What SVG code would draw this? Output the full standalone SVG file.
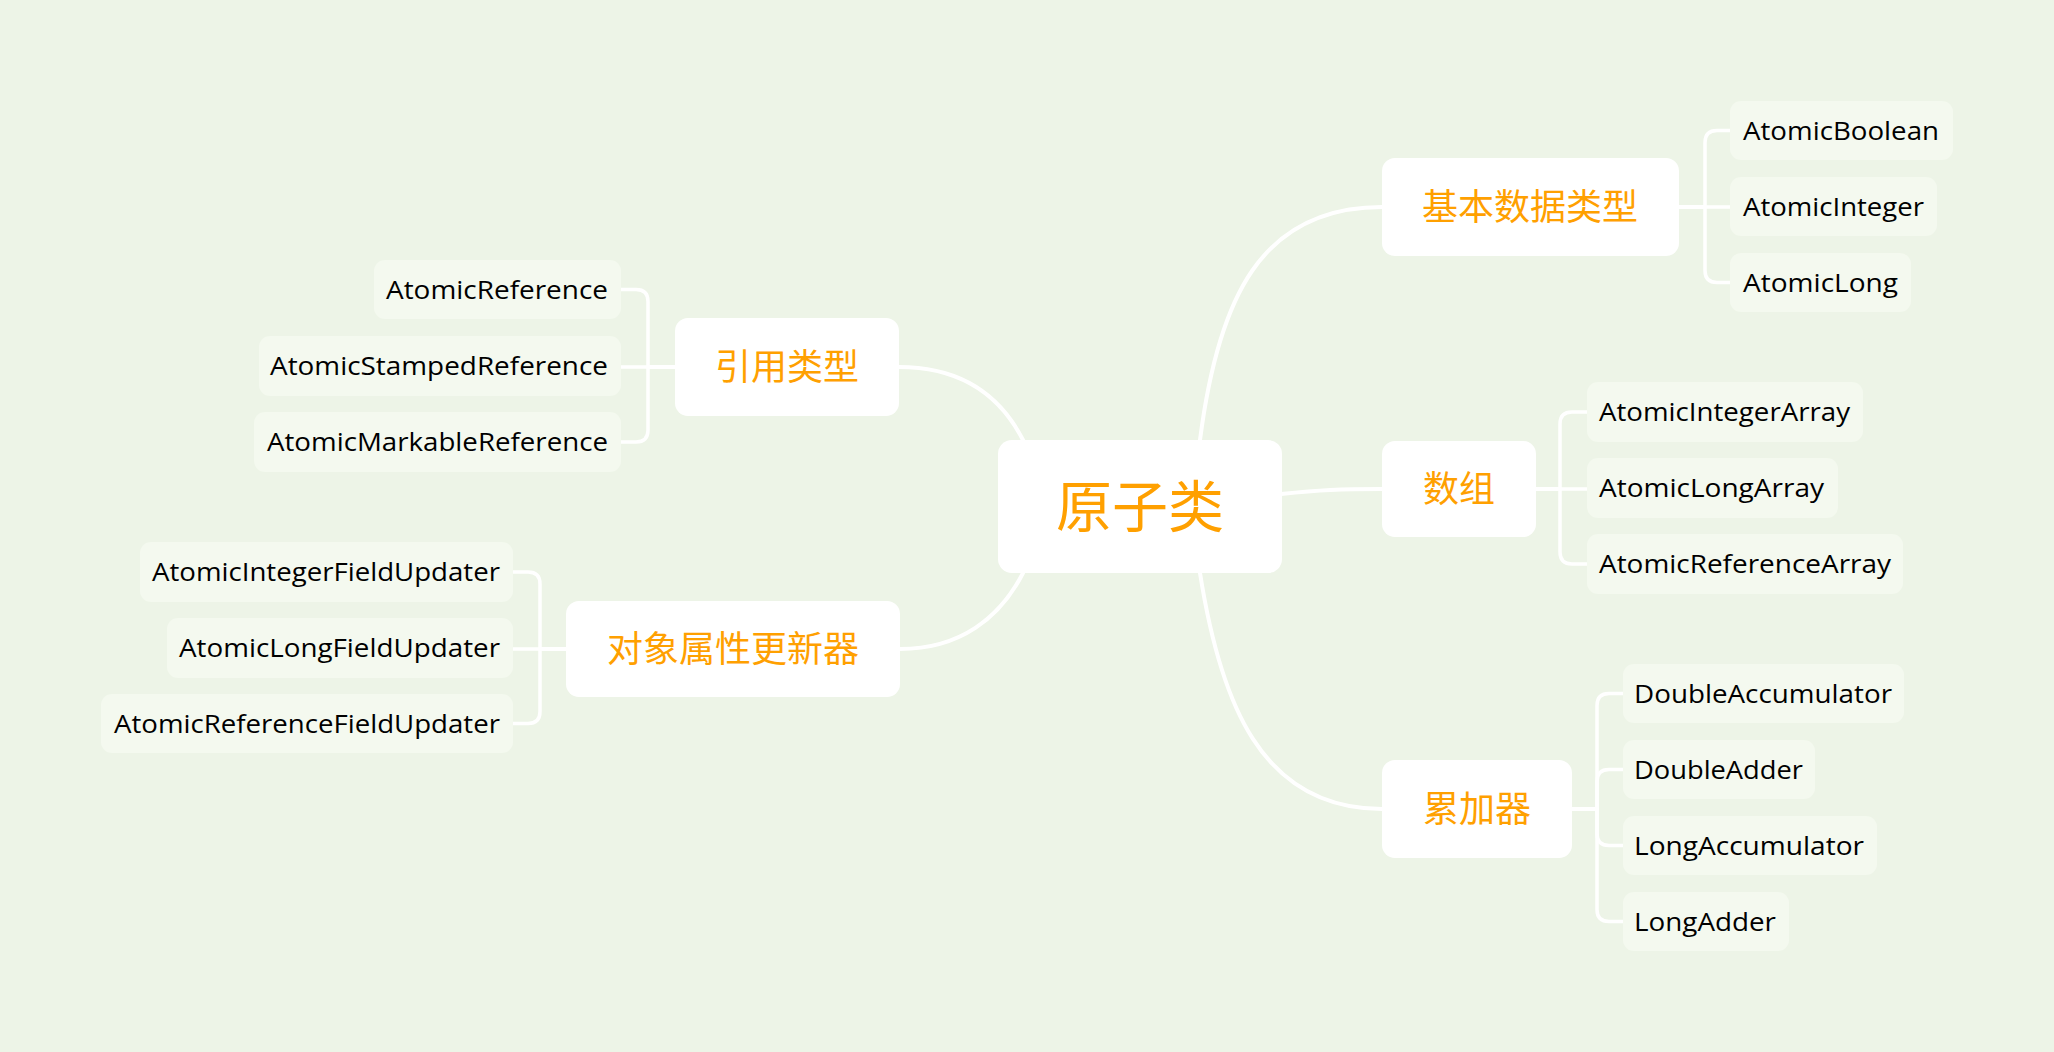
<svg xmlns="http://www.w3.org/2000/svg" width="2054" height="1052" viewBox="0 0 2054 1052">
<style>
.bg{fill:#EDF4E7}
.main{fill:#FFFFFF}
.leaf{fill:#F4F9EF}
.mt{font-family:"Noto Sans CJK SC","Noto Sans",sans-serif;font-size:36px;fill:#FFA000;text-anchor:middle}
.rt{font-family:"Noto Sans CJK SC","Noto Sans",sans-serif;font-size:56px;fill:#FFA000;text-anchor:middle}
.lt{font-family:"Open Sans","Liberation Sans",sans-serif;font-size:26px;fill:#000000}
.le{text-anchor:end}
.c{fill:none;stroke:#FFFFFF;stroke-width:3.5;stroke-linecap:round;stroke-linejoin:round}
.cm{fill:none;stroke:#FFFFFF;stroke-width:4;stroke-linecap:round}
</style>
<rect class="bg" x="0" y="0" width="2054" height="1052"/>
<g id="connectors">
<path class="cm" d="M1200,440 C1218,300 1260,207 1382,207"/>
<path class="cm" d="M1281,494 C1320,490 1340,489 1382,489"/>
<path class="cm" d="M1200,573 C1220,700 1260,809 1382,809"/>
<path class="cm" d="M1023,440 C1000,395 960,367 899,367"/>
<path class="cm" d="M1023,573 C1000,618 960,649 900,649"/>
<path class="c" d="M1679,207 H1705 V142.5 Q1705,130.5 1717,130.5 H1730"/>
<path class="c" d="M1679,207 H1730"/>
<path class="c" d="M1679,207 H1705 V270.5 Q1705,282.5 1717,282.5 H1730"/>
<path class="c" d="M1536,489 H1560 V424 Q1560,412 1572,412 H1587"/>
<path class="c" d="M1536,489 H1587"/>
<path class="c" d="M1536,489 H1560 V552 Q1560,564 1572,564 H1587"/>
<path class="c" d="M1572,809 H1597 V705.5 Q1597,693.5 1609,693.5 H1623"/>
<path class="c" d="M1572,809 H1597 V781.5 Q1597,769.5 1609,769.5 H1623"/>
<path class="c" d="M1572,809 H1597 V833.5 Q1597,845.5 1609,845.5 H1623"/>
<path class="c" d="M1572,809 H1597 V909.5 Q1597,921.5 1609,921.5 H1623"/>
<path class="c" d="M675,367 H648 V301.5 Q648,289.5 636,289.5 H621"/>
<path class="c" d="M675,367 H621"/>
<path class="c" d="M675,367 H648 V430 Q648,442 636,442 H621"/>
<path class="c" d="M566,649 H540 V584 Q540,572 528,572 H513"/>
<path class="c" d="M566,649 H513"/>
<path class="c" d="M566,649 H540 V711.5 Q540,723.5 528,723.5 H513"/>
</g>
<g id="root"><rect class="main" x="998" y="440" width="284" height="133" rx="14"/><text class="rt" x="1140" y="527">原子类</text></g>
<g id="n-basic"><rect class="main" x="1382" y="158" width="297" height="98" rx="13"/><text class="mt" x="1530" y="220">基本数据类型</text></g>
<g id="n-array"><rect class="main" x="1382" y="441" width="154" height="96" rx="13"/><text class="mt" x="1459" y="502">数组</text></g>
<g id="n-acc"><rect class="main" x="1382" y="760" width="190" height="98" rx="13"/><text class="mt" x="1477" y="822">累加器</text></g>
<g id="n-ref"><rect class="main" x="675" y="318" width="224" height="98" rx="13"/><text class="mt" x="787" y="380">引用类型</text></g>
<g id="n-upd"><rect class="main" x="566" y="601" width="334" height="96" rx="13"/><text class="mt" x="733" y="662">对象属性更新器</text></g>
<g id="l-bool"><rect class="leaf" x="1730" y="101" width="223" height="59" rx="11"/><text class="lt" x="1743" y="140" textLength="196" lengthAdjust="spacingAndGlyphs">AtomicBoolean</text></g>
<g id="l-int"><rect class="leaf" x="1730" y="177" width="207" height="59" rx="11"/><text class="lt" x="1743" y="216" textLength="181" lengthAdjust="spacingAndGlyphs">AtomicInteger</text></g>
<g id="l-long"><rect class="leaf" x="1730" y="253" width="181" height="59" rx="11"/><text class="lt" x="1743" y="292" textLength="155" lengthAdjust="spacingAndGlyphs">AtomicLong</text></g>
<g id="l-intarr"><rect class="leaf" x="1587" y="382" width="276" height="60" rx="11"/><text class="lt" x="1599" y="421" textLength="251" lengthAdjust="spacingAndGlyphs">AtomicIntegerArray</text></g>
<g id="l-longarr"><rect class="leaf" x="1587" y="458" width="251" height="60" rx="11"/><text class="lt" x="1599" y="497" textLength="225" lengthAdjust="spacingAndGlyphs">AtomicLongArray</text></g>
<g id="l-refarr"><rect class="leaf" x="1587" y="534" width="316" height="60" rx="11"/><text class="lt" x="1599" y="573" textLength="292" lengthAdjust="spacingAndGlyphs">AtomicReferenceArray</text></g>
<g id="l-dacc"><rect class="leaf" x="1623" y="664" width="281" height="59" rx="11"/><text class="lt" x="1634" y="703" textLength="258" lengthAdjust="spacingAndGlyphs">DoubleAccumulator</text></g>
<g id="l-dadd"><rect class="leaf" x="1623" y="740" width="192" height="59" rx="11"/><text class="lt" x="1634" y="779" textLength="169" lengthAdjust="spacingAndGlyphs">DoubleAdder</text></g>
<g id="l-lacc"><rect class="leaf" x="1623" y="816" width="254" height="59" rx="11"/><text class="lt" x="1634" y="855" textLength="230" lengthAdjust="spacingAndGlyphs">LongAccumulator</text></g>
<g id="l-ladd"><rect class="leaf" x="1623" y="892" width="166" height="59" rx="11"/><text class="lt" x="1634" y="931" textLength="142" lengthAdjust="spacingAndGlyphs">LongAdder</text></g>
<g id="l-ref"><rect class="leaf" x="374" y="260" width="247" height="59" rx="11"/><text class="lt le" x="608" y="299" textLength="222" lengthAdjust="spacingAndGlyphs">AtomicReference</text></g>
<g id="l-sref"><rect class="leaf" x="259" y="336" width="362" height="60" rx="11"/><text class="lt le" x="608" y="375" textLength="338" lengthAdjust="spacingAndGlyphs">AtomicStampedReference</text></g>
<g id="l-mref"><rect class="leaf" x="254" y="412" width="367" height="60" rx="11"/><text class="lt le" x="608" y="451" textLength="341" lengthAdjust="spacingAndGlyphs">AtomicMarkableReference</text></g>
<g id="l-ifu"><rect class="leaf" x="140" y="542" width="373" height="60" rx="11"/><text class="lt le" x="500" y="581" textLength="348" lengthAdjust="spacingAndGlyphs">AtomicIntegerFieldUpdater</text></g>
<g id="l-lfu"><rect class="leaf" x="167" y="618" width="346" height="60" rx="11"/><text class="lt le" x="500" y="657" textLength="321" lengthAdjust="spacingAndGlyphs">AtomicLongFieldUpdater</text></g>
<g id="l-rfu"><rect class="leaf" x="101" y="694" width="412" height="59" rx="11"/><text class="lt le" x="500" y="733" textLength="386" lengthAdjust="spacingAndGlyphs">AtomicReferenceFieldUpdater</text></g>
</svg>
